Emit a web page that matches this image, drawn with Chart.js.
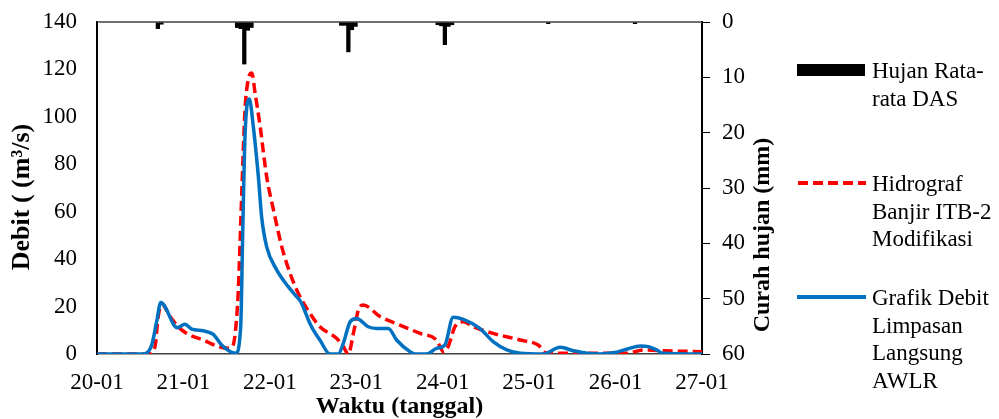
<!DOCTYPE html>
<html lang="id">
<head>
    <meta charset="UTF-8">
    <title>Hidrograf Banjir</title>
    <script src="https://cdn.jsdelivr.net/npm/chart.js"></script>
    <style>
        body { margin: 0; background: #fff; font-family: 'Liberation Serif', serif; }
        #wrap { position: relative; width: 999px; height: 419px; }
        #legend { position: absolute; left: 0; top: 0; }
        .item { position: absolute; left: 872px; font-size: 23px; line-height: 27.7px; color: #000; white-space: nowrap; }
        .sym { position: absolute; left: 797px; }
    </style>
</head>
<body>
<div id="wrap">
    <canvas id="hydroChart" width="999" height="419"></canvas>
    <div id="legend">
        <div class="sym" style="top:64px;width:68px;height:12px;background:#000;"></div>
        <div class="item" style="top:57px;">Hujan Rata-<br>rata DAS</div>
        <svg class="sym" style="top:179px;" width="70" height="8"><line x1="1" y1="4" x2="69" y2="4" stroke="#ff0000" stroke-width="4" stroke-dasharray="10,5"/></svg>
        <div class="item" style="top:170px;">Hidrograf<br>Banjir ITB-2<br>Modifikasi</div>
        <svg class="sym" style="top:293px;" width="70" height="8"><line x1="0" y1="4" x2="69" y2="4" stroke="#0070c0" stroke-width="4"/></svg>
        <div class="item" style="top:284px;">Grafik Debit<br>Limpasan<br>Langsung<br>AWLR</div>
    </div>
</div>

<script>
    // tick labels (one per day, x is in hours from 20-01 00:00)
    const dayLabels = ['20-01', '21-01', '22-01', '23-01', '24-01', '25-01', '26-01', '27-01'];

    // rainfall (mm), hour positions of the bars
    const rainHours = [16.9, 17.9, 38.9, 39.9, 40.9, 41.9, 42.9, 67.8, 68.8, 69.8, 70.8, 71.8,
                       94.6, 95.6, 96.6, 97.6, 98.6, 125.3, 149.4];
    const rainMm    = [1.2, 0.4, 1.0, 1.2, 7.6, 1.5, 1.0, 0.6, 0.6, 5.4, 1.4, 0.8,
                       0.5, 0.7, 4.1, 0.8, 0.5, 0.3, 0.3];

    // Hidrograf Banjir ITB-2 Modifikasi
    const itbHours = [0, 14.2, 16.1, 17.0, 18.0, 20.3, 23.0, 25.8, 29.5, 33.2, 36.5, 37.8, 38.6, 39.2,
                      40.2, 41.1, 42.0, 43.0, 43.9, 45.3, 47.1, 49.0, 51.3, 53.6, 55.9, 59.1, 61.9,
                      66.6, 68.4, 69.8, 71.2, 72.6, 73.9, 78.6, 84.1, 89.7, 94.3, 96.2, 97.5, 99.4,
                      101.7, 104.5, 110.0, 117.5, 122.5, 124.9, 147.1, 151.7, 156.3, 168];
    const itbDebit = [0, 0, 3.1, 15.8, 21.1, 15.8, 10.8, 8.0, 5.9, 3.4, 2.4, 3.8, 12.0, 25.6,
                      67.9, 103, 115.7, 118.5, 110, 96, 74.9, 60.8, 45.3, 34.1, 25.6, 17.2, 11.5,
                      6.5, 3.1, 0, 8.7, 18.6, 20.7, 15.8, 12.2, 8.7, 5.9, 1.0, 3.1, 11.5,
                      13.6, 11.5, 8.7, 5.9, 3.8, 0.3, 0.3, 1.7, 1.4, 1.0];

    // Grafik Debit Limpasan Langsung AWLR
    const awlrHours = [0, 12.9, 15.2, 16.6, 17.7, 22.3, 24.4, 26.3, 29.5, 32.3, 34.6, 38.5, 39.9,
                       40.5, 41.1, 42.3, 43.4, 44.8, 45.7, 47.1, 49.9, 53.1, 55.0, 56.6, 59.1, 60.1,
                       61.9, 64.7, 67.0, 68.4, 70.3, 72.1, 75.3, 77.7, 80.9, 83.2, 86.9, 88.3, 91.5,
                       94.3, 96.6, 98.9, 101.7, 106.3, 110.0, 113.8, 117.5, 123.9, 128.6, 132.3,
                       136.0, 139.7, 143.3, 147.1, 150.8, 153.1, 155.4, 157.2, 168];
    const awlrDebit = [0, 0, 3.8, 14, 21.7, 11.1, 12.5, 10.5, 9.8, 8.3, 3.8, 0.3, 11.5,
                       53.8, 91.8, 107.5, 96, 74.9, 58, 45.3, 35.5, 28.4, 24.9, 22.0, 13, 10.1,
                       5.9, 0, 0, 4.5, 13.6, 15, 11.5, 10.8, 10.8, 5.9, 1.0, 0, 0,
                       2.4, 3.8, 15.5, 14.6, 10.8, 5.2, 1.7, 0.3, 0, 2.8, 1.4,
                       0.3, 0, 0.5, 2.0, 3.4, 3.1, 1.7, 0.3, 0];

    const leftTitle = 'Debit ( (m³/s)';
    const rightTitle = 'Curah hujan (mm)';
    const bottomTitle = 'Waktu (tanggal)';

    const toPoints = (xs, ys) => xs.map((x, i) => ({ x: x, y: ys[i] }));
    const serif = 'Liberation Serif';

    // draws rotated text reading bottom to top
    function upText(ctx, text, x, y, size) {
        ctx.save();
        ctx.translate(x, y);
        ctx.rotate(-Math.PI / 2);
        ctx.font = 'bold ' + size + 'px "' + serif + '"';
        ctx.textAlign = 'center';
        ctx.textBaseline = 'middle';
        ctx.fillStyle = '#000';
        ctx.fillText(text, 0, 0);
        ctx.restore();
    }

    // top frame line and the two vertical axis titles
    const frameAndTitles = {
        id: 'frameAndTitles',
        afterDraw(chart) {
            const ctx = chart.ctx;
            const a = chart.chartArea;
            ctx.save();
            ctx.strokeStyle = '#404040';
            ctx.lineWidth = 1.5;
            ctx.beginPath();
            ctx.moveTo(a.left, a.top);
            ctx.lineTo(a.right, a.top);
            ctx.stroke();
            ctx.restore();
            upText(ctx, leftTitle, chart.scales.y.left + 22, 197, 26);
            upText(ctx, rightTitle, chart.scales.y2.right - 19, 235, 24);
        }
    };

    // fixed axis sizes so the plot area sits where it does in the original
    const fitWidth = w => s => { s.width = w; s.paddingTop = 0; s.paddingBottom = 0; };

    const ctx = document.getElementById('hydroChart').getContext('2d');
    new Chart(ctx, {
        type: 'line',
        data: {
            datasets: [{
                type: 'bar',
                label: 'Hujan Rata-rata DAS',
                data: toPoints(rainHours, rainMm),
                yAxisID: 'y2',
                backgroundColor: '#000',
                barThickness: 3.6,
                order: 0
            }, {
                label: 'Grafik Debit Limpasan Langsung AWLR',
                data: toPoints(awlrHours, awlrDebit),
                yAxisID: 'y',
                borderColor: '#0070c0',
                borderWidth: 3.5,
                pointRadius: 0,
                cubicInterpolationMode: 'monotone',
                fill: false,
                order: 1
            }, {
                label: 'Hidrograf Banjir ITB-2 Modifikasi',
                data: toPoints(itbHours, itbDebit),
                yAxisID: 'y',
                borderColor: '#ff0000',
                borderWidth: 3.5,
                borderDash: [10, 5],
                pointRadius: 0,
                cubicInterpolationMode: 'monotone',
                fill: false,
                order: 2
            }]
        },
        options: {
            responsive: false,
            animation: false,
            layout: { padding: { top: 22, right: 217, bottom: 0, left: 0 } },
            plugins: { legend: { display: false }, tooltip: { enabled: false } },
            scales: {
                x: {
                    type: 'linear',
                    min: 0,
                    max: 168,
                    offset: false,
                    afterFit: s => { s.height = 65; },
                    grid: { display: false, drawTicks: false },
                    border: { display: true, color: '#404040', width: 1.5 },
                    ticks: {
                        stepSize: 24,
                        padding: 15,
                        color: '#000',
                        maxRotation: 0,
                        font: { family: serif, size: 23 },
                        callback: v => dayLabels[v / 24]
                    },
                    title: {
                        display: true,
                        text: bottomTitle,
                        color: '#000',
                        padding: 0,
                        font: { family: serif, size: 24, weight: 'bold', lineHeight: 1 }
                    }
                },
                y: {
                    position: 'left',
                    min: 0,
                    max: 140,
                    afterFit: fitWidth(97),
                    grid: { display: false, drawTicks: false },
                    border: { display: true, color: '#000', width: 2 },
                    ticks: {
                        stepSize: 20,
                        padding: 20,
                        color: '#000',
                        font: { family: serif, size: 23 }
                    }
                },
                y2: {
                    position: 'right',
                    reverse: true,
                    min: 0,
                    max: 60,
                    afterFit: fitWidth(80),
                    grid: { drawOnChartArea: false, drawTicks: true, tickLength: 8, color: '#000' },
                    border: { display: true, color: '#000', width: 2 },
                    ticks: {
                        stepSize: 10,
                        padding: 12,
                        color: '#000',
                        font: { family: serif, size: 23 }
                    }
                }
            }
        },
        plugins: [frameAndTitles]
    });
</script>
</body>
</html>
